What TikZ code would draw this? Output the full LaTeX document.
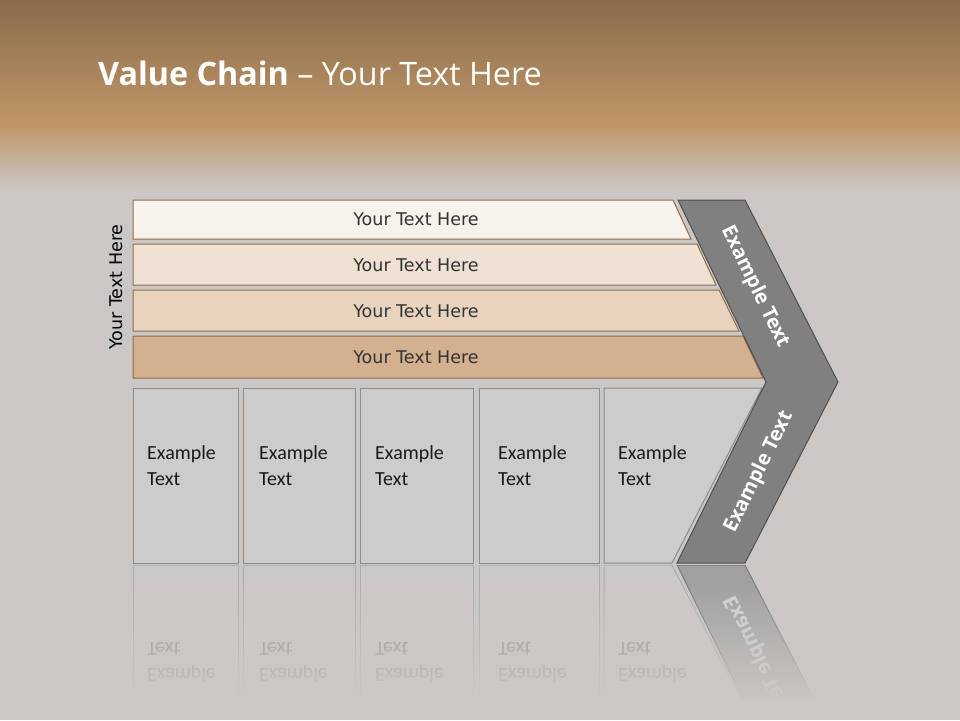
\documentclass[tikz,border=0pt]{standalone}
\usepackage{fontspec}
\setmainfont{Carlito}
\newfontfamily\titlefont{Open Sans}
\newfontfamily\barfont{DejaVu Sans}
\usetikzlibrary{fadings}

\definecolor{bggray}{HTML}{CBC7C4}
\definecolor{topbrown}{HTML}{8A6C4B}
\definecolor{midbrown}{HTML}{C09668}
\definecolor{barline}{HTML}{8D6D4E}
\definecolor{barA}{HTML}{F8F2EC}
\definecolor{barB}{HTML}{EFE1D4}
\definecolor{barC}{HTML}{E8D4BE}
\definecolor{barD}{HTML}{D3B08F}
\definecolor{boxfill}{HTML}{CCCCCC}
\definecolor{boxline}{HTML}{8C8C8C}
\definecolor{chevfill}{HTML}{808080}
\definecolor{chevline}{HTML}{4F4F4F}

\tikzset{
  bar/.style={draw=barline, line width=1pt},
  box/.style={draw=boxline, fill=boxfill, line width=1pt},
  chev/.style={draw=chevline, fill=chevfill, line width=1pt},
  bartext/.style={font=\barfont\fontsize{17.5}{21}\selectfont, text=black!80},
  boxtext/.style={font=\fontsize{20}{26}\selectfont, align=left, anchor=west,
    inner sep=0pt, text=black!90},
  chevtext/.style={font=\titlefont\bfseries\fontsize{20}{24}\selectfont, text=white},
}

\begin{document}
\begin{tikzpicture}[x=1pt,y=-1pt]
\useasboundingbox (0,0) rectangle (960,720);

% background
\fill[bggray] (0,0) rectangle (960,720);
\shade[top color=topbrown, bottom color=midbrown] (0,0) rectangle (960,125);
\shade[top color=midbrown, bottom color=bggray] (0,125) rectangle (960,190);

\node[anchor=base west, inner sep=0pt, text=white,
  font=\titlefont\fontsize{32.3}{38}\selectfont] (title) at (98,85)
  {\textbf{Value Chain} – Your Text Here};

% bars
\filldraw[bar, fill=barA] (133,200) -- (673,200) -- (691,239) -- (133,239) -- cycle;
\filldraw[bar, fill=barB] (133,244) -- (697,244) -- (716,285) -- (133,285) -- cycle;
\filldraw[bar, fill=barC] (133,290) -- (719,290) -- (739,331) -- (133,331) -- cycle;
\filldraw[bar, fill=barD] (133,336) -- (743,336) -- (763,378) -- (133,378) -- cycle;
\node[bartext] (barA) at (416,219) {Your Text Here};
\node[bartext] (barB) at (416,265) {Your Text Here};
\node[bartext] (barC) at (416,311) {Your Text Here};
\node[bartext] (barD) at (416,357) {Your Text Here};

\node[bartext, rotate=90, text=black] (side) at (116,287) {Your Text Here};

% boxes
\draw[box] (133,388) rectangle (238,563);
\draw[box] (243,388) rectangle (355,563);
\draw[box] (360,388) rectangle (473,563);
\draw[box] (479,388) rectangle (599,563);
\draw[box] (604,388) -- (762,388) -- (672,563) -- (604,563) -- cycle;
\node[boxtext] (boxA) at (147,466) {Example\\Text};
\node[boxtext] (boxB) at (259,466) {Example\\Text};
\node[boxtext] (boxC) at (375,466) {Example\\Text};
\node[boxtext] (boxD) at (498,466) {Example\\Text};
\node[boxtext] (boxE) at (618,466) {Example\\Text};

% chevron
\filldraw[chev] (678,200) -- (745,200) -- (838,382) -- (745,563) -- (677,563)
  -- (766,382) -- cycle;
\node[chevtext, rotate=-64] (chevA) at (755,287) {Example Text};
\node[chevtext, rotate=64] (chevB) at (759,472) {Example Text};

% reflection
\begin{scope}
\clip (0,565) rectangle (960,700);
\begin{scope}[opacity=0.45]
\draw[box] (133,565) rectangle (238,740);
\draw[box] (243,565) rectangle (355,740);
\draw[box] (360,565) rectangle (473,740);
\draw[box] (479,565) rectangle (599,740);
\draw[box] (604,565) -- (672,565) -- (762,740) -- (604,740) -- cycle;
\end{scope}
\begin{scope}[opacity=0.35]
\node[boxtext, yscale=-1] (mirA) at (147,662) {Example\\Text};
\node[boxtext, yscale=-1] (mirB) at (259,662) {Example\\Text};
\node[boxtext, yscale=-1] (mirC) at (375,662) {Example\\Text};
\node[boxtext, yscale=-1] (mirD) at (498,662) {Example\\Text};
\node[boxtext, yscale=-1] (mirE) at (618,662) {Example\\Text};
\end{scope}
\begin{scope}[opacity=0.55]
\filldraw[chev] (677,565) -- (745,565) -- (838,746) -- (766,746) -- cycle;
\node[chevtext, rotate=-64, yscale=-1] (mirF) at (759,656) {Example Text};
\end{scope}
\end{scope}
\fill[bggray, path fading=north] (0,580) rectangle (960,702);
\end{tikzpicture}
\end{document}
